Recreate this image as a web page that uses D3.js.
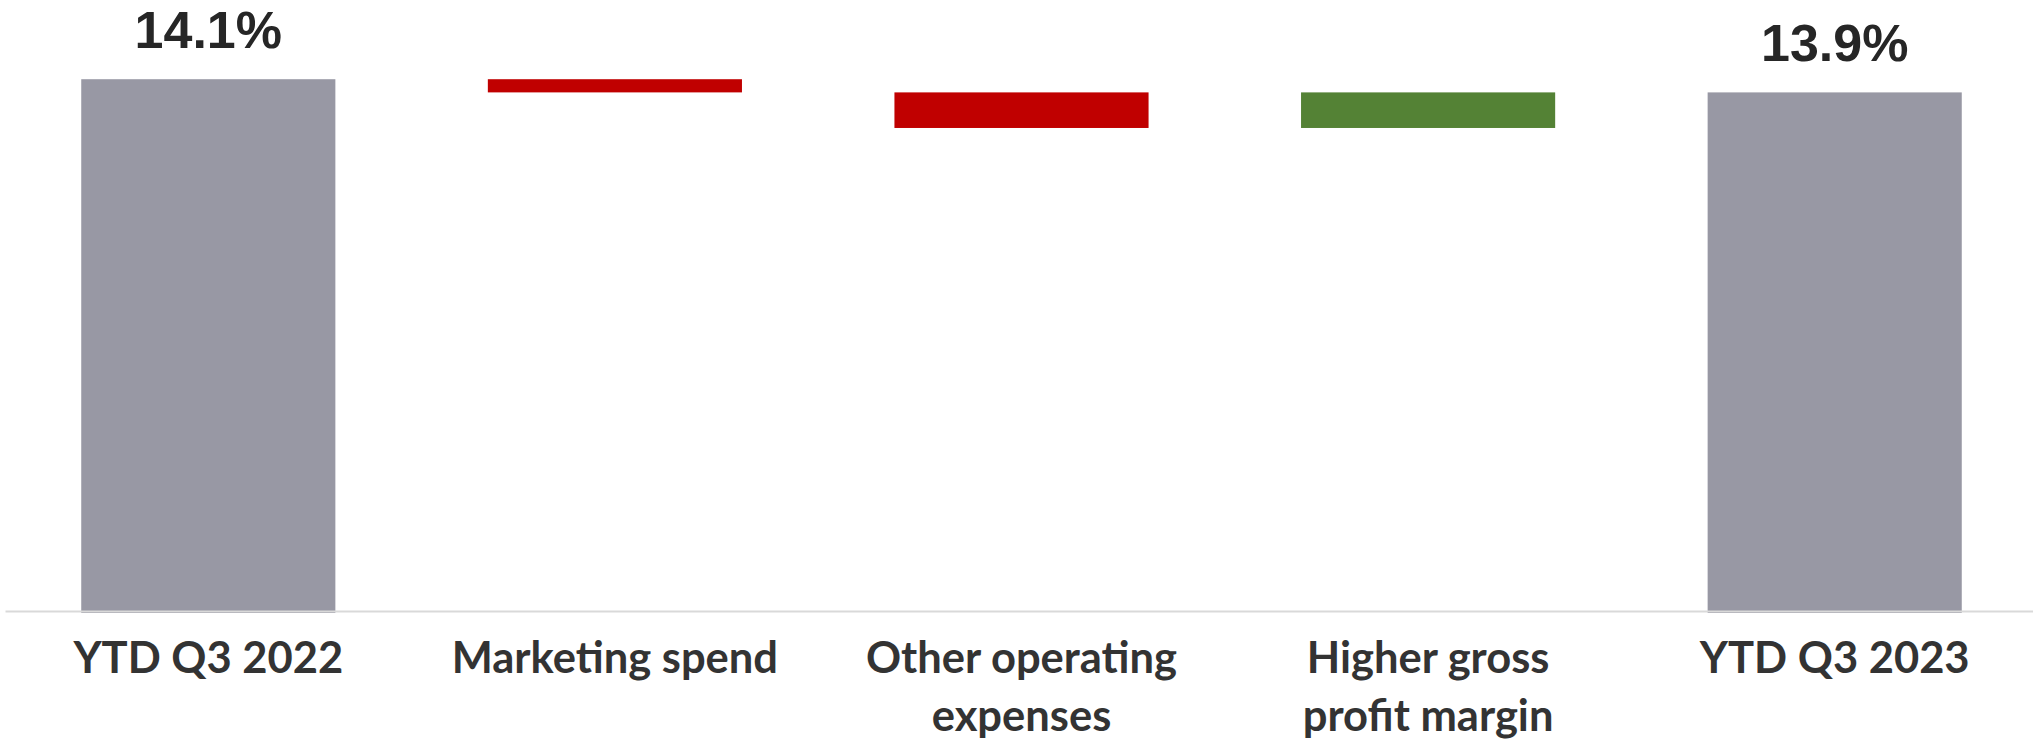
<!DOCTYPE html>
<html>
<head>
<meta charset="utf-8">
<script src="https://cdn.jsdelivr.net/npm/d3@7"></script>
<style>
  body { margin: 0; background: #ffffff; }
  .cat-label { font-family: Lato, "Open Sans", sans-serif; font-weight: 700; font-size: 43.5px; fill: #333333; }
  .value-label { font-family: "Liberation Sans", Arial, sans-serif; font-weight: 700; font-size: 52px; fill: #262626; }
</style>
</head>
<body>
<div id="chart"></div>
<script>
// DATA
const categories = ["YTD Q3 2022", "Marketing spend", "Other operating expenses", "Higher gross profit margin", "YTD Q3 2023"];
const categoryLines = [["YTD Q3 2022"], ["Marketing spend"], ["Other operating", "expenses"], ["Higher gross", "profit margin"], ["YTD Q3 2023"]];
const values = [14.1, -0.2, -0.54, 0.54, 13.9]; // margin %, totals and changes
const kinds = ["total", "delta", "delta", "delta", "total"];
const valueLabels = ["14.1%", "", "", "", "13.9%"];

// 1: BLANK SVG
const width = 2033, height = 741;
const svg = d3.select("#chart")
    .append("svg")
    .attr("width", width)
    .attr("height", height);

// 2: BUILD WATERFALL STEPS
let running = 0;
const steps = categories.map((c, i) => {
    let lo, hi;
    if (kinds[i] === "total") {
        running = values[i];
        lo = null; hi = values[i];
    } else {
        const start = running;
        running = running + values[i];
        lo = Math.min(start, running);
        hi = Math.max(start, running);
    }
    return { cat: c, lo: lo, hi: hi, kind: kinds[i], value: values[i], label: valueLabels[i], lines: categoryLines[i] };
});

// 3: SCALES
const x = d3.scaleBand()
    .domain(categories)
    .range([5, 2038])
    .paddingInner(0.375)
    .paddingOuter(0.1875);

const y = d3.scaleLinear()
    .domain([6, 15])   // chart axis starts at 6%
    .range([613, 613 - 9 * 65.9]);

const colour = d => d.kind === "total" ? "#9898a4" : (d.value < 0 ? "#c00000" : "#548235");

// 4: BARS
svg.append("g")
    .selectAll("rect")
    .data(steps)
    .enter()
    .append("rect")
    .attr("x", d => x(d.cat))
    .attr("width", x.bandwidth())
    .attr("y", d => y(d.hi))
    .attr("height", d => (d.lo === null ? y.range()[0] : y(d.lo)) - y(d.hi))
    .attr("fill", colour);

// 5: AXIS (line only, labels replaced by wrapped lines)
const xAxis = svg.append("g")
    .attr("transform", "translate(0,611)")
    .call(d3.axisBottom(x).tickSize(0).tickSizeOuter(0).tickFormat(""));

xAxis.select(".domain")
    .attr("stroke", "#d9d9d9")
    .attr("stroke-width", 2);

xAxis.selectAll(".tick text").remove();

xAxis.selectAll(".tick")
    .data(steps)
    .append("text")
    .attr("class", "cat-label")
    .attr("text-anchor", "middle")
    .each(function (d) {
        const t = d3.select(this);
        d.lines.forEach((line, k) => {
            t.append("tspan")
                .attr("x", 0)
                .attr("y", 62 + k * 58)
                .text(line);
        });
    });

// 6: VALUE LABELS ON TOTALS
svg.append("g")
    .selectAll("text")
    .data(steps.filter(d => d.label !== ""))
    .enter()
    .append("text")
    .attr("class", "value-label")
    .attr("text-anchor", "middle")
    .attr("x", d => x(d.cat) + x.bandwidth() / 2)
    .attr("y", d => y(d.hi) - 31.5)
    .text(d => d.label);
</script>
</body>
</html>
